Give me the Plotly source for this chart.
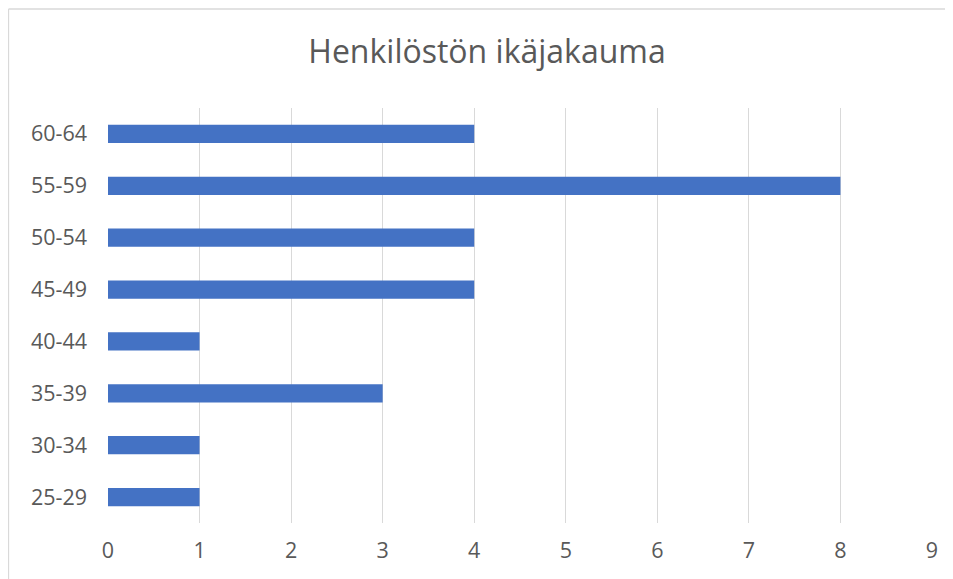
import plotly.graph_objects as go

categories = ["25-29", "30-34", "35-39", "40-44", "45-49", "50-54", "55-59", "60-64"]
values = [1, 1, 3, 1, 4, 4, 8, 4]
x_ticks = [0, 1, 2, 3, 4, 5, 6, 7, 8, 9]
title_text = "Henkilöstön ikäjakauma"

fig = go.Figure(go.Bar(
    y=categories, x=values, orientation="h",
    marker=dict(color="#4472C4", line=dict(width=0)),
    width=0.35,
))

# page has an 8px body margin, so the figure is sized to fit the window
L, R, T, B = 100, 21, 100, 56
W, H = 945, 571
pw, ph = W - L - R, H - T - B

bx0 = (0.5 - L) / pw
bx1 = (W + 20 - L) / pw
by_top = 1 + (T - 1) / ph
by_bot = -(B + 20) / ph
border = dict(color="#D9D9D9", width=1.3)

fig.update_layout(
    width=W, height=H,
    margin=dict(l=L, r=R, t=T, b=B, pad=0),
    paper_bgcolor="white", plot_bgcolor="white",
    font=dict(family="Open Sans, Liberation Sans, sans-serif", color="#595959", size=21),
    title=dict(text=title_text, x=479 / W, xref="container", xanchor="center",
               y=1 - 44 / H, yanchor="middle",
               font=dict(size=32, color="#595959")),
    showlegend=False,
    xaxis=dict(range=[0, 9], tickvals=x_ticks, showgrid=True, gridcolor="#D9D9D9", gridwidth=1.3,
               zeroline=False, showline=False, ticks="", ticklabelstandoff=12,
               tickfont=dict(size=21.5, color="#595959")),
    yaxis=dict(categoryorder="array", categoryarray=categories, showgrid=False, zeroline=False,
               showline=False, ticks="", ticklabelstandoff=20,
               tickfont=dict(size=21.5, color="#595959")),
    shapes=[
        dict(type="line", xref="paper", yref="paper", x0=bx0, x1=bx1, y0=by_top, y1=by_top,
             line=border, layer="below"),
        dict(type="line", xref="paper", yref="paper", x0=bx0, x1=bx0, y0=by_top, y1=by_bot,
             line=border, layer="below"),
    ],
)

fig.write_html("out.html")
